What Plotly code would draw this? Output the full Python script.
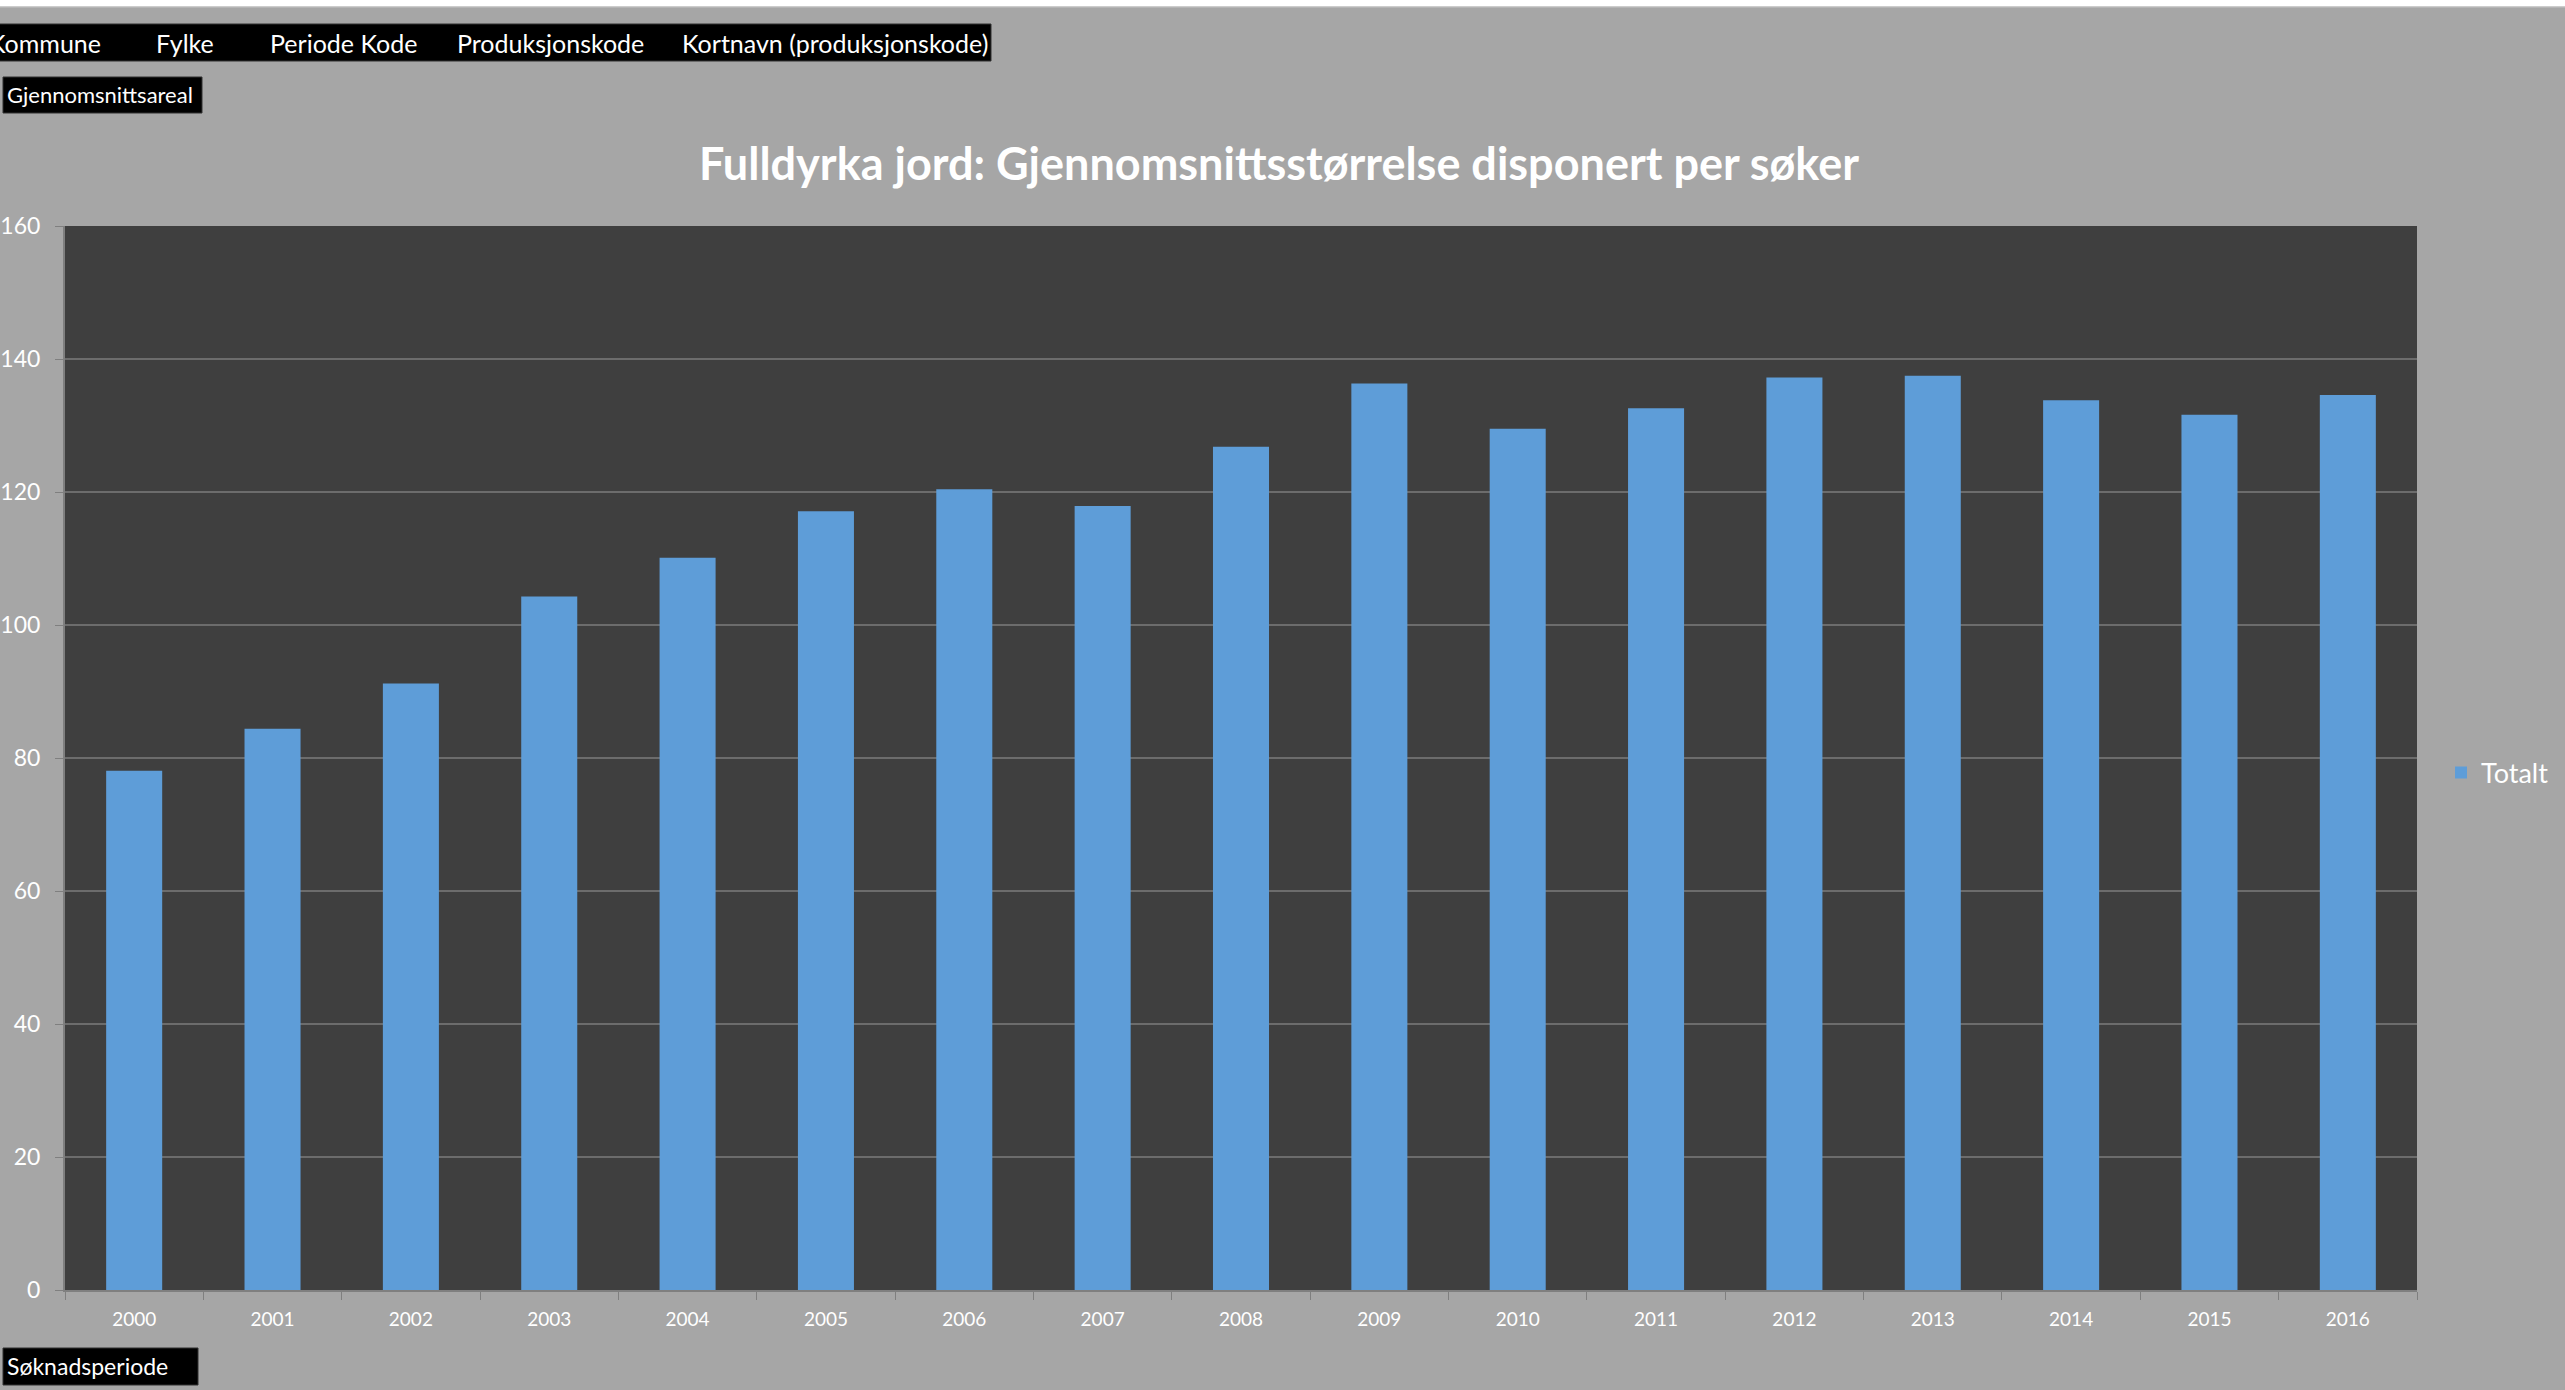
import plotly.graph_objects as go

years = ["2000", "2001", "2002", "2003", "2004", "2005", "2006", "2007", "2008",
         "2009", "2010", "2011", "2012", "2013", "2014", "2015", "2016"]
totalt = [78.1, 84.4, 91.2, 104.3, 110.1, 117.1, 120.4, 117.9, 126.8,
          136.3, 129.5, 132.6, 137.2, 137.5, 133.8, 131.6, 134.6]
y_ticks = [0, 20, 40, 60, 80, 100, 120, 140, 160]
filter_labels = ["Kommune", "Fylke", "Periode Kode", "Produksjonskode", "Kortnavn (produksjonskode)"]
value_label = "Gjennomsnittsareal"
axis_label = "Søknadsperiode"
title_text = "Fulldyrka jord: Gjennomsnittsstørrelse disponert per søker"
series_name = "Totalt"

W, H = 2565, 1390
L, R, T, B = 65, 148, 226, 100
PW, PH = W - L - R, H - T - B
FONT = "Lato, 'Open Sans', sans-serif"


def px(x):
    return (x - L) / PW


def py(y):
    return 1 - (y - T) / PH


fig = go.Figure()
fig.add_trace(go.Bar(
    x=years, y=totalt, name=series_name,
    marker=dict(color="#5e9dd8", line=dict(width=0)),
    showlegend=True,
))

shapes = [
    dict(type="rect", xref="paper", yref="paper", x0=px(-5), x1=px(W + 5), y0=py(-5), y1=py(6.5),
         fillcolor="white", line=dict(width=0), layer="above"),
    dict(type="line", xref="paper", yref="paper", x0=px(-5), x1=px(W + 5), y0=py(7), y1=py(7),
         line=dict(color="#c4c4c4", width=1), layer="above"),
    dict(type="rect", xref="paper", yref="paper", x0=px(-5), x1=px(991), y0=py(24), y1=py(61),
         fillcolor="black", line=dict(color="#303030", width=1), layer="above"),
    dict(type="rect", xref="paper", yref="paper", x0=px(3), x1=px(202), y0=py(77), y1=py(113),
         fillcolor="black", line=dict(color="#303030", width=1), layer="above"),
    dict(type="rect", xref="paper", yref="paper", x0=px(3), x1=px(198), y0=py(1348), y1=py(1385),
         fillcolor="black", line=dict(color="#303030", width=1), layer="above"),
]

annotations = []
filter_x = [103, 154, 268, 455, 680]
for i, (lab, xx) in enumerate(zip(filter_labels, filter_x)):
    annotations.append(dict(
        text=lab, xref="paper", yref="paper", x=px(xx), y=py(43),
        xanchor="right" if i == 0 else "left", yanchor="middle", showarrow=False,
        font=dict(family=FONT, size=25, color="white"),
    ))
annotations.append(dict(
    text=value_label, xref="paper", yref="paper", x=px(5), y=py(95),
    xanchor="left", yanchor="middle", showarrow=False,
    font=dict(family=FONT, size=22, color="white"),
))
annotations.append(dict(
    text=axis_label, xref="paper", yref="paper", x=px(5), y=py(1366),
    xanchor="left", yanchor="middle", showarrow=False,
    font=dict(family=FONT, size=23, color="white"),
))

fig.update_layout(
    width=W, height=H,
    margin=dict(l=L, r=R, t=T, b=B, autoexpand=False),
    paper_bgcolor="#a6a6a6",
    plot_bgcolor="#3f3f3f",
    font=dict(family=FONT, color="white"),
    title=dict(
        text="<b>" + title_text + "</b>",
        xref="container", yref="container", x=1279 / W, y=1 - 164 / H,
        xanchor="center", yanchor="middle",
        font=dict(family=FONT, size=45, color="white"),
    ),
    bargap=0.595,
    showlegend=True,
    legend=dict(
        xref="container", yref="container", x=2441 / W, y=1 - 773 / H,
        xanchor="left", yanchor="middle",
        bgcolor="rgba(0,0,0,0)",
        font=dict(family=FONT, size=27, color="white"),
        itemwidth=30,
    ),
    xaxis=dict(
        type="category",
        showgrid=False,
        showline=True, linecolor="#7f7f7f", linewidth=2,
        ticks="outside", ticklen=8, tickcolor="#7f7f7f", tickwidth=1,
        tickson="boundaries",
        tickfont=dict(family=FONT, size=19, color="white"),
        ticklabelstandoff=11,
    ),
    yaxis=dict(
        range=[0, 160],
        tickvals=y_ticks,
        showgrid=True, gridcolor="#6c6c6c", gridwidth=2,
        zeroline=False,
        showline=True, linecolor="#7f7f7f", linewidth=2,
        ticks="outside", ticklen=8, tickcolor="#7f7f7f", tickwidth=1,
        tickfont=dict(family=FONT, size=23, color="white"),
        ticklabelstandoff=10,
    ),
    shapes=shapes,
    annotations=annotations,
)

fig.write_html(
    "out.html",
    config={"displayModeBar": False},
    post_script="document.body.style.margin='0';document.body.style.overflow='hidden';",
)
